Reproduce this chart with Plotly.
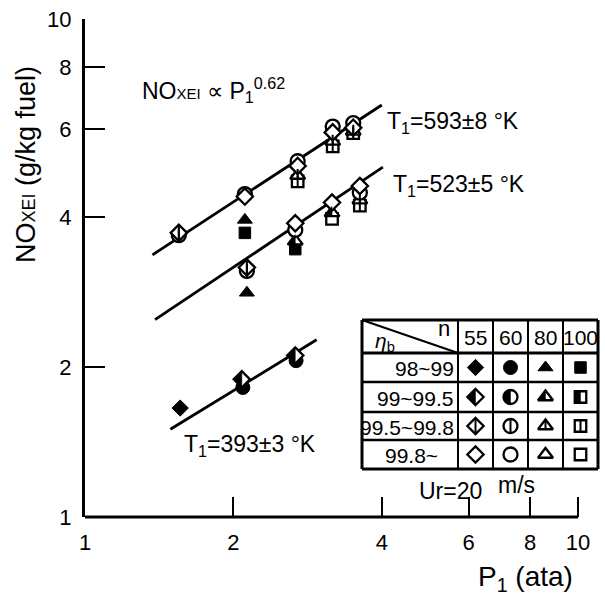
import numpy as np
import plotly.graph_objects as go

# ---------------- data ----------------
axis_ticks = [1, 2, 4, 6, 8, 10]

# NOx correlation lines (end points as drawn)
fit593_P = [1.37, 4.00]
fit593_NOx = [3.36, 6.72]
fit523_P = [1.387, 4.02]
fit523_NOx = [2.49, 5.04]
fit393_P = [1.49, 2.95]
fit393_NOx = [1.50, 2.27]

# T1 = 593 K measurements: pressure, NOx EI, swirl number n, efficiency class index
t593_P = [1.55, 1.55, 2.11, 2.11, 2.11, 2.11, 2.70, 2.70, 2.70, 2.70,
          3.18, 3.18, 3.18, 3.18, 3.50, 3.50, 3.50, 3.50]
t593_NOx = [3.72, 3.68, 4.40, 4.45, 3.95, 3.72, 5.07, 5.18, 4.85, 4.72,
            5.92, 6.08, 5.68, 5.55, 6.05, 6.18, 5.95, 5.90]
t593_n = [55, 60, 55, 60, 80, 100, 55, 60, 80, 100,
          55, 60, 80, 100, 55, 60, 80, 100]
t593_eta = [2, 2, 3, 3, 0, 0, 3, 3, 2, 2, 3, 3, 2, 2, 3, 3, 2, 2]

# T1 = 523 K
t523_P = [2.13, 2.13, 2.13, 2.67, 2.67, 2.67, 2.67, 3.17, 3.17, 3.17,
          3.61, 3.61, 3.61, 3.61]
t523_NOx = [3.17, 3.12, 2.82, 3.89, 3.77, 3.58, 3.45, 4.28, 4.08, 3.97,
            4.62, 4.48, 4.33, 4.22]
t523_n = [55, 60, 80, 55, 60, 80, 100, 55, 80, 100, 55, 60, 80, 100]
t523_eta = [2, 2, 0, 3, 3, 1, 0, 3, 1, 3, 3, 3, 2, 2]

# T1 = 393 K
t393_P = [1.56, 2.08, 2.09, 2.67, 2.68]
t393_NOx = [1.655, 1.89, 1.82, 2.11, 2.06]
t393_n = [55, 55, 60, 55, 60]
t393_eta = [0, 1, 0, 1, 0]

swirl_n = [55, 60, 80, 100]
eta_classes = ["98~99", "99~99.5", "99.5~99.8", "99.8~"]

# ---------------- style / layout constants ----------------
FONT = "Liberation Sans, Arial, sans-serif"
W_FIG, H_FIG = 605, 595
ML, MR, MT, MB = 85, 0, 19, 78
DECADE_X = 493          # pixels per decade on x (1 -> 10 spans this)
PW = W_FIG - ML - MR
PH = H_FIG - MT - MB
X_RANGE_MAX = PW / DECADE_X   # log10 value at right edge of plot area

SYM = {55: "diamond", 60: "circle", 80: "triangle-up", 100: "square"}
SIZE = {"diamond": 12.5, "circle": 14, "triangle-up": 13, "square": 11.5}


def px_x(px):
    return (px - ML) / PW


def px_y(py):
    return (H_FIG - MB - py) / PH


def half_path(sym, s):
    if sym == "diamond":
        d = 0.65 * s
        pts = [(0, d), (-d, 0), (0, -d)]
    elif sym == "circle":
        r = s / 2
        ang = np.linspace(np.pi / 2, 3 * np.pi / 2, 13)
        pts = [(r * np.cos(a), r * np.sin(a)) for a in ang]
    elif sym == "triangle-up":
        r = s / 2
        rt = r * 2 / np.sqrt(3)
        r2 = r / 2
        pts = [(0, r), (-rt, -r2), (0, -r2)]
    else:
        h = s / 2
        pts = [(0, h), (-h, h), (-h, -h), (0, -h)]
    return "M" + " L".join(f"{x:.2f},{y:.2f}" for x, y in pts) + " Z"


def bar_path(sym, s):
    if sym == "diamond":
        top, bot = 0.65 * s, -0.65 * s
    elif sym == "triangle-up":
        top, bot = 0.5 * s, -0.25 * s
    else:
        top, bot = 0.5 * s, -0.5 * s
    return f"M0,{top:.2f} L0,{bot:.2f}"


def detail_shapes(sym, eta, xa, ya, xref, yref):
    s = SIZE[sym]
    out = []
    if eta == 1:
        out.append(dict(type="path", xref=xref, yref=yref, xsizemode="pixel",
                        ysizemode="pixel", xanchor=xa, yanchor=ya,
                        path=half_path(sym, s), fillcolor="black",
                        line=dict(color="black", width=0.5), layer="above"))
    elif eta == 2:
        out.append(dict(type="path", xref=xref, yref=yref, xsizemode="pixel",
                        ysizemode="pixel", xanchor=xa, yanchor=ya,
                        path=bar_path(sym, s),
                        line=dict(color="black", width=2), layer="above"))
    return out


def marker_style(sym, eta):
    if eta == 0:
        return dict(symbol=sym, size=SIZE[sym], color="black",
                    line=dict(color="black", width=1))
    return dict(symbol=sym, size=SIZE[sym], color="white",
                line=dict(color="black", width=2.3))


fig = go.Figure()
shapes = []

# x axis line only from 1 to 10 (plot area extends further right for the table)
shapes.append(dict(type="line", xref="x", yref="paper", x0=1, x1=10, y0=0, y1=0,
                   line=dict(color="black", width=3), layer="above"))

# fitted lines
for P, N in [(fit593_P, fit593_NOx), (fit523_P, fit523_NOx), (fit393_P, fit393_NOx)]:
    fig.add_trace(go.Scatter(x=P, y=N, mode="lines",
                             line=dict(color="black", width=2.8),
                             showlegend=False, hoverinfo="skip"))

# measured points
draw_order = [100, 80, 60, 55]
for P, N, n_arr, e_arr in [(t593_P, t593_NOx, t593_n, t593_eta),
                           (t523_P, t523_NOx, t523_n, t523_eta),
                           (t393_P, t393_NOx, t393_n, t393_eta)]:
    for n in draw_order:
        for eta in range(4):
            idx = [i for i in range(len(P)) if n_arr[i] == n and e_arr[i] == eta]
            if not idx:
                continue
            sym = SYM[n]
            xs = [P[i] for i in idx]
            ys = [N[i] for i in idx]
            fig.add_trace(go.Scatter(x=xs, y=ys, mode="markers",
                                     marker=marker_style(sym, eta),
                                     showlegend=False,
                                     name=f"n={n}, ηb {eta_classes[eta]}"))
            for x, y in zip(xs, ys):
                shapes += detail_shapes(sym, eta, x, y, "x", "y")

# ---------------- legend table ----------------
col_edges = [362, 458, 493, 528, 563, 598]
row_edges = [320, 353, 382, 412, 440, 469]
col_c = [(col_edges[i] + col_edges[i + 1]) / 2 for i in range(1, 5)]
row_c = [(row_edges[i] + row_edges[i + 1]) / 2 for i in range(0, 5)]

for r, eta in enumerate(range(4)):
    for c, n in enumerate(swirl_n):
        sym = SYM[n]
        fig.add_trace(go.Scatter(x=[col_c[c]], y=[row_c[r + 1]], mode="markers",
                                 xaxis="x2", yaxis="y2", cliponaxis=False,
                                 marker=marker_style(sym, eta),
                                 showlegend=False, hoverinfo="skip"))
        shapes += detail_shapes(sym, eta, px_x(col_c[c]), px_y(row_c[r + 1]),
                                "paper", "paper")

for i, yy in enumerate(row_edges):
    w = 3 if i in (0, 1, len(row_edges) - 1) else 2.5
    shapes.append(dict(type="line", xref="paper", yref="paper",
                       x0=px_x(col_edges[0]), x1=px_x(col_edges[-1]),
                       y0=px_y(yy), y1=px_y(yy),
                       line=dict(color="black", width=w)))
for i, xx in enumerate(col_edges):
    w = 3 if i in (0, len(col_edges) - 1) else 2
    shapes.append(dict(type="line", xref="paper", yref="paper",
                       x0=px_x(xx), x1=px_x(xx),
                       y0=px_y(row_edges[0]), y1=px_y(row_edges[-1]),
                       line=dict(color="black", width=w)))
shapes.append(dict(type="line", xref="paper", yref="paper",
                   x0=px_x(col_edges[0]), x1=px_x(col_edges[1]),
                   y0=px_y(row_edges[0]), y1=px_y(row_edges[1]),
                   line=dict(color="black", width=2)))

annotations = []


def add_text(txt, px, py, size, xanchor="center", yanchor="middle", angle=0):
    annotations.append(dict(text=txt, x=px_x(px), y=px_y(py), xref="paper",
                            yref="paper", showarrow=False, xanchor=xanchor,
                            yanchor=yanchor, textangle=angle,
                            font=dict(family=FONT, size=size, color="black")))


for c, n in enumerate(swirl_n):
    add_text(str(n), col_c[c], row_c[0] + 1, 21)
add_text("n", 444, 328, 22)
add_text("<i>η</i><sub>b</sub>", 385, 342, 21)
for r, lab in enumerate(eta_classes):
    if r < 3:
        add_text(lab, 456, row_c[r + 1] + 1, 21, xanchor="right")
    else:
        add_text(lab, 383, row_c[r + 1] + 1, 21, xanchor="left")
add_text("Ur=20", 450, 491, 23)
add_text("m/s", 516, 485, 23)

# curve labels
add_text("T<sub>1</sub>=593±8 °K", 385, 122, 23, xanchor="left")
add_text("T<sub>1</sub>=523±5 °K", 391, 185, 23, xanchor="left")
add_text("T<sub>1</sub>=393±3 °K", 182, 445, 23, xanchor="left")
add_text("NO<span style='font-size:15px'>XEI</span> ∝ P<sub>1</sub><sup>0.62</sup>",
         140, 90, 23, xanchor="left")

# axis titles
add_text("NO<span style='font-size:18px'>XEI</span> (g/kg fuel)", 26, 165, 27, angle=-90)
add_text("P<sub>1</sub> (ata)", 525, 578, 28)

axis_common = dict(tickvals=axis_ticks,
                   ticktext=[str(v) for v in axis_ticks],
                   ticks="inside", ticklen=20, tickwidth=2, tickcolor="black",
                   showgrid=False, zeroline=False, mirror=False,
                   tickfont=dict(family=FONT, size=22, color="black"))

fig.update_layout(
    width=W_FIG, height=H_FIG,
    margin=dict(l=ML, r=MR, t=MT, b=MB),
    paper_bgcolor="white", plot_bgcolor="white",
    xaxis=dict(**axis_common, type="log", range=[0, X_RANGE_MAX],
               showline=False, ticklabelstandoff=10),
    yaxis=dict(**axis_common, type="log", range=[0, 1],
               showline=True, linewidth=3, linecolor="black",
               ticklabelstandoff=6),
    xaxis2=dict(overlaying="x", anchor="y2", range=[ML, W_FIG - MR], visible=False),
    yaxis2=dict(overlaying="y", anchor="x2", range=[H_FIG - MB, MT], visible=False),
    shapes=shapes, annotations=annotations, showlegend=False,
)

fig.write_html("out.html")
